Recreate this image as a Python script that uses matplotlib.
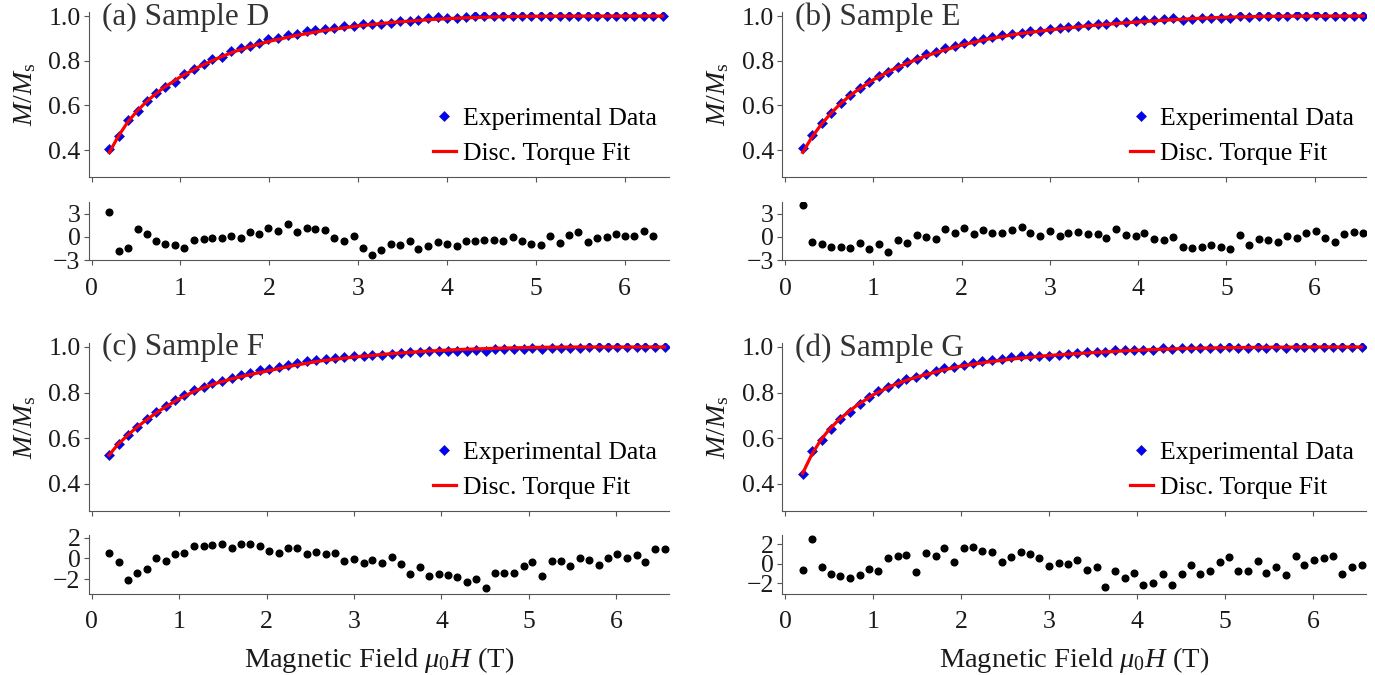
import matplotlib
matplotlib.use("Agg")
import matplotlib.pyplot as plt

plt.rcParams["font.family"] = ["Liberation Serif", "DejaVu Serif"]
plt.rcParams["mathtext.fontset"] = "custom"
plt.rcParams["mathtext.rm"] = "Liberation Serif"
plt.rcParams["mathtext.it"] = "Liberation Serif:italic"

# --- field sweeps (T) ---
field_a = [0.20, 0.31, 0.41, 0.52, 0.62, 0.73, 0.83, 0.94, 1.04, 1.15,
           1.26, 1.36, 1.47, 1.57, 1.68, 1.78, 1.89, 1.99, 2.10, 2.21,
           2.31, 2.42, 2.52, 2.63, 2.73, 2.84, 2.95, 3.05, 3.16, 3.26,
           3.37, 3.47, 3.58, 3.68, 3.79, 3.90, 4.00, 4.11, 4.21, 4.32,
           4.42, 4.53, 4.63, 4.74, 4.85, 4.95, 5.06, 5.16, 5.27, 5.37,
           5.48, 5.59, 5.69, 5.80, 5.90, 6.01, 6.11, 6.22, 6.32, 6.43]
field_bcd = [0.20, 0.31, 0.42, 0.52, 0.63, 0.74, 0.85, 0.95, 1.06, 1.17,
             1.28, 1.38, 1.49, 1.60, 1.71, 1.81, 1.92, 2.03, 2.14, 2.24,
             2.35, 2.46, 2.57, 2.68, 2.78, 2.89, 3.00, 3.11, 3.21, 3.32,
             3.43, 3.54, 3.64, 3.75, 3.86, 3.97, 4.07, 4.18, 4.29, 4.40,
             4.51, 4.61, 4.72, 4.83, 4.94, 5.04, 5.15, 5.26, 5.37, 5.47,
             5.58, 5.69, 5.80, 5.90, 6.01, 6.12, 6.23, 6.33, 6.44, 6.55]

# --- normalised magnetisation M/Ms ---
mag_a = [0.403, 0.465, 0.536, 0.576, 0.618, 0.655, 0.684, 0.707, 0.739, 0.761,
         0.784, 0.807, 0.818, 0.844, 0.855, 0.865, 0.880, 0.896, 0.902, 0.914,
         0.919, 0.932, 0.939, 0.944, 0.948, 0.956, 0.956, 0.963, 0.966, 0.966,
         0.970, 0.978, 0.980, 0.982, 0.990, 0.994, 0.993, 0.993, 0.996, 0.998,
         0.999, 0.999, 0.999, 1.000, 1.000, 0.999, 0.999, 1.000, 0.999, 1.000,
         1.001, 1.000, 1.000, 1.000, 1.001, 0.999, 1.001, 1.001, 0.999, 0.998]
mag_b = [0.410, 0.470, 0.520, 0.566, 0.610, 0.647, 0.677, 0.704, 0.733, 0.751,
         0.773, 0.793, 0.810, 0.828, 0.840, 0.858, 0.867, 0.880, 0.889, 0.899,
         0.905, 0.914, 0.921, 0.926, 0.932, 0.934, 0.941, 0.948, 0.952, 0.955,
         0.961, 0.963, 0.965, 0.973, 0.974, 0.978, 0.982, 0.982, 0.987, 0.991,
         0.984, 0.986, 0.993, 0.993, 0.993, 0.993, 1.002, 0.997, 1.000, 1.000,
         1.000, 1.001, 1.003, 1.001, 1.003, 1.001, 0.999, 1.001, 1.002, 1.002]
mag_c = [0.527, 0.575, 0.613, 0.648, 0.682, 0.716, 0.740, 0.768, 0.789, 0.811,
         0.826, 0.840, 0.852, 0.864, 0.877, 0.888, 0.900, 0.904, 0.914, 0.923,
         0.931, 0.938, 0.945, 0.948, 0.951, 0.956, 0.959, 0.959, 0.963, 0.966,
         0.970, 0.975, 0.978, 0.978, 0.981, 0.981, 0.984, 0.984, 0.984, 0.988,
         0.981, 0.990, 0.990, 0.990, 0.993, 0.997, 0.990, 0.997, 0.997, 0.997,
         0.997, 1.000, 1.000, 1.000, 1.000, 1.002, 1.000, 1.002, 1.002, 1.002]
mag_d = [0.442, 0.542, 0.592, 0.641, 0.685, 0.716, 0.749, 0.781, 0.805, 0.826,
         0.840, 0.860, 0.867, 0.882, 0.894, 0.907, 0.914, 0.923, 0.931, 0.938,
         0.941, 0.948, 0.956, 0.959, 0.961, 0.962, 0.962, 0.966, 0.970, 0.975,
         0.978, 0.980, 0.978, 0.985, 0.985, 0.987, 0.985, 0.988, 0.994, 0.992,
         0.994, 0.996, 0.995, 0.996, 0.997, 1.000, 0.996, 0.997, 0.998, 0.997,
         0.998, 0.997, 1.000, 1.000, 1.000, 1.000, 1.000, 0.998, 0.999, 0.999]

# --- discrete torque model curves ---
fit_field_a = [0.20, 0.30, 0.40, 0.50, 0.60, 0.70, 0.80, 1.00, 1.20, 1.40, 1.60, 1.80,
               2.00, 2.30, 2.60, 3.00, 3.40, 3.80, 4.20, 4.60, 5.00, 5.50, 6.00, 6.43]
fit_field_bcd = [0.20, 0.30, 0.40, 0.50, 0.60, 0.70, 0.80, 1.00, 1.20, 1.40, 1.60, 1.80,
                 2.00, 2.30, 2.60, 3.00, 3.40, 3.80, 4.20, 4.60, 5.00, 5.50, 6.00, 6.55]
fit_a = [0.390, 0.462, 0.522, 0.570, 0.610, 0.645, 0.676, 0.728, 0.771, 0.808, 0.840, 0.865,
         0.887, 0.913, 0.934, 0.956, 0.972, 0.984, 0.992, 0.997, 0.999, 1.000, 1.000, 1.000]
fit_b = [0.390, 0.455, 0.510, 0.556, 0.597, 0.632, 0.663, 0.715, 0.757, 0.792, 0.822, 0.847,
         0.870, 0.897, 0.918, 0.938, 0.955, 0.968, 0.979, 0.988, 0.995, 0.999, 1.000, 1.000]
fit_c = [0.525, 0.572, 0.608, 0.642, 0.672, 0.700, 0.726, 0.773, 0.810, 0.838, 0.860, 0.878,
         0.894, 0.918, 0.938, 0.956, 0.970, 0.981, 0.989, 0.994, 0.998, 1.000, 1.000, 1.000]
fit_d = [0.445, 0.525, 0.588, 0.637, 0.676, 0.709, 0.739, 0.790, 0.828, 0.857, 0.879, 0.899,
         0.916, 0.934, 0.948, 0.963, 0.973, 0.982, 0.989, 0.994, 0.997, 0.999, 1.000, 1.000]

# --- fit residuals ---
resid_a = [3.2, -1.8, -1.4, 1.0, 0.4, -0.5, -0.9, -1.0, -1.5, -0.4,
           -0.3, -0.2, -0.1, 0.1, -0.1, 0.6, 0.3, 1.1, 0.8, 1.6,
           0.6, 1.1, 1.0, 0.9, -0.2, -0.6, 0.1, -1.5, -2.4, -1.7,
           -0.9, -1.1, -0.6, -1.6, -1.2, -0.7, -0.9, -1.2, -0.6, -0.5,
           -0.35, -0.4, -0.6, 0.0, -0.5, -0.9, -1.1, 0.1, -0.8, 0.2,
           0.6, -0.7, -0.2, 0.0, 0.3, 0.05, 0.1, 0.8, 0.1]
resid_b = [4.1, -0.69, -0.9, -1.33, -1.37, -1.46, -0.86, -1.55, -0.99, -1.9,
           -0.39, -0.82, 0.26, -0.04, -0.34, 0.99, 0.47, 1.2, 0.39, 0.9,
           0.43, 0.47, 0.9, 1.29, 0.47, 0.09, 0.77, 0.17, 0.52, 0.56,
           0.34, 0.34, -0.13, 0.99, 0.26, 0.09, 0.43, -0.26, -0.43, 0.04,
           -1.33, -1.42, -1.29, -1.07, -1.33, -1.55, 0.26, -1.03, -0.3, -0.47,
           -0.64, 0.13, -0.21, 0.47, 0.73, -0.09, -0.64, 0.3, 0.6, 0.47]
resid_c = [0.57, -0.38, -2.1, -1.36, -1.0, 0.06, -0.22, 0.44, 0.57, 1.17,
           1.2, 1.3, 1.36, 1.05, 1.36, 1.4, 1.2, 0.73, 0.5, 1.0,
           0.98, 0.41, 0.6, 0.44, 0.48, -0.22, -0.03, -0.41, -0.16, -0.41,
           0.16, -0.48, -1.5, -0.8, -1.65, -1.5, -1.55, -1.8, -2.25, -2.0,
           -2.8, -1.4, -1.4, -1.4, -0.73, -0.35, -1.65, -0.2, -0.22, -0.76,
           0.03, -0.1, -0.67, 0.06, 0.41, 0.06, 0.32, -0.35, 0.9, 0.92]
resid_d = [-0.62, 2.5, -0.34, -1.03, -1.24, -1.5, -1.17, -0.52, -0.72, 0.59,
           0.76, 0.86, -0.83, 1.14, 0.83, 1.6, 0.14, 1.6, 1.7, 1.34,
           1.2, 0.14, 0.69, 1.2, 0.97, 0.62, -0.24, 0.1, -0.07, 0.34,
           -0.59, -0.34, -2.34, -0.79, -1.48, -0.97, -2.2, -1.97, -1.03, -2.17,
           -1.03, -0.1, -1.07, -0.79, 0.14, 0.66, -0.79, -0.79, 0.28, -0.97,
           -0.31, -1.2, 0.79, -0.1, 0.34, 0.59, 0.76, -1.1, -0.31, -0.17]

titles = ["(a) Sample D", "(b) Sample E", "(c) Sample F", "(d) Sample G"]

panels = [
    (titles[0], field_a, mag_a, fit_field_a, fit_a, resid_a, 6.50, (-3.0, 4.5), [-3, 0, 3]),
    (titles[1], field_bcd, mag_b, fit_field_bcd, fit_b, resid_b, 6.58, (-3.0, 4.5), [-3, 0, 3]),
    (titles[2], field_bcd, mag_c, fit_field_bcd, fit_c, resid_c, 6.60, (-3.4, 2.25), [-2, 0, 2]),
    (titles[3], field_bcd, mag_d, fit_field_bcd, fit_d, resid_d, 6.60, (-3.1, 2.95), [-2, 0, 2]),
]

# axes boxes in figure fractions: (left, width) per column, (main, resid) per row
cols = [(0.0647, 0.4218), (0.5690, 0.4244)]
rows = [((0.7378, 0.2444), (0.6148, 0.0859)),
        ((0.2430, 0.2490), (0.1200, 0.0874))]

SPINE = "#555555"
TXT = "#1a1a1a"

fig = plt.figure(figsize=(13.75, 6.75), dpi=100)

for i, (title, fx, mag, ffx, fit, resid, xmax, rlim, rticks) in enumerate(panels):
    left, width = cols[i % 2]
    (mb, mh), (rb, rh) = rows[i // 2]

    ax = fig.add_axes([left, mb, width, mh])
    axr = fig.add_axes([left, rb, width, rh])

    pts, = ax.plot(fx, mag, ls="none", marker="D", ms=5.6, mfc="#0000ff",
                   mec="#1c1c9a", mew=0.5, zorder=2)
    line, = ax.plot(ffx, fit, color="#ff0000", lw=2.3, zorder=3)

    ax.set_xlim(-0.03, xmax)
    ax.set_ylim(0.28, 1.018)
    ax.set_yticks([0.4, 0.6, 0.8, 1.0])
    ax.set_yticklabels(["0.4", "0.6", "0.8", "1.0"])
    ax.set_xticks(range(7))
    ax.tick_params(axis="x", labelbottom=False)
    ax.set_ylabel(r"$M/M_\mathrm{s}$", fontsize=20, color=TXT)
    ax.yaxis.set_label_coords(-0.088, 0.5)
    ax.text(0.022, 1.058, title, transform=ax.transAxes, fontsize=22.5,
            ha="left", va="top", color="#333333")
    ax.legend([pts, line], ["Experimental Data", "Disc. Torque Fit"],
              loc="lower right", frameon=False, fontsize=18.5, numpoints=1,
              handlelength=0.9, handletextpad=0.3, labelspacing=0.5,
              borderaxespad=0.15, borderpad=0.3)

    axr.plot(fx[:len(resid)], resid, ls="none", marker="o", ms=4.8,
             color="black")
    axr.set_xlim(-0.03, xmax)
    axr.set_ylim(*rlim)
    axr.set_yticks(rticks)
    axr.set_yticklabels([str(t).replace("-", "\u2212") for t in rticks])
    axr.set_xticks(range(7))

    for a in (ax, axr):
        a.spines[["top", "right"]].set_visible(False)
        for s in ("left", "bottom"):
            a.spines[s].set_color(SPINE)
            a.spines[s].set_linewidth(0.8)
        a.tick_params(direction="out", length=3.6, width=0.8, color=SPINE,
                      labelsize=18.5, labelcolor=TXT)
        a.tick_params(axis="y", pad=2.5)
    axr.tick_params(axis="x", pad=9)

    if i >= 2:
        axr.set_xlabel(r"Magnetic Field $\mu_0H$ (T)", fontsize=20.5,
                       color=TXT, labelpad=8)

fig.savefig("out.png", dpi=100)
